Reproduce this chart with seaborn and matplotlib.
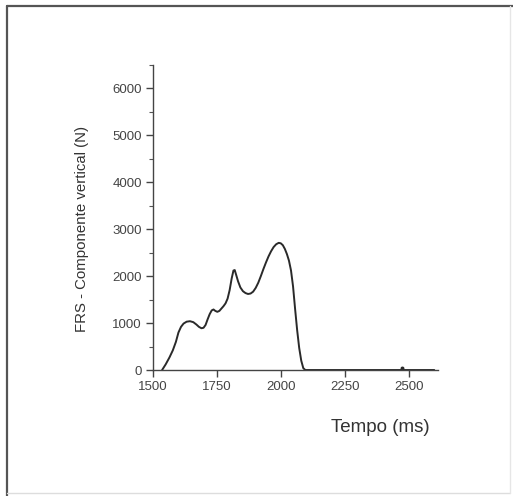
import matplotlib
matplotlib.use("Agg")
import matplotlib.pyplot as plt
import seaborn as sns
import pandas as pd
from matplotlib.ticker import MultipleLocator
from matplotlib.lines import Line2D

# Data
tempo_ms = [1536, 1550, 1565, 1578, 1590, 1600, 1610, 1620, 1632, 1645, 1658, 1670,
            1680, 1690, 1698, 1706, 1714, 1722, 1730, 1737, 1744, 1752, 1760, 1768,
            1776, 1784, 1792, 1800, 1808, 1815, 1820, 1826, 1833, 1842, 1852, 1862,
            1872, 1882, 1892, 1902, 1912, 1922, 1932, 1942, 1952, 1962, 1972, 1982,
            1992, 2000, 2008, 2016, 2024, 2032, 2040, 2048, 2056, 2064, 2072, 2080,
            2088, 2096, 2110, 2200, 2300, 2400, 2500, 2600]
forca_n = [0, 120, 270, 420, 600, 800, 920, 990, 1030, 1040, 1020, 970,
           920, 890, 900, 960, 1080, 1190, 1270, 1290, 1260, 1240, 1260, 1310,
           1360, 1420, 1520, 1700, 1950, 2120, 2130, 2020, 1890, 1760, 1680, 1640,
           1620, 1630, 1670, 1750, 1860, 2000, 2150, 2290, 2420, 2530, 2620, 2680,
           2710, 2700, 2660, 2580, 2470, 2330, 2120, 1780, 1300, 850, 470, 200,
           40, 0, 0, 0, 0, 0, 0, 0]
marca_tempo = [2475]
marca_forca = [40]
x_ticks = [1500, 1750, 2000, 2250, 2500]
y_ticks = [0, 1000, 2000, 3000, 4000, 5000, 6000]

sns.set_style("white")
plt.rcParams['font.family'] = ['Liberation Sans', 'DejaVu Sans']

df = pd.DataFrame({"Tempo": tempo_ms, "FRS": forca_n})

fig = plt.figure(figsize=(5.13, 4.96), dpi=100)
ax = fig.add_axes([0.298, 0.254, 0.556, 0.615])

sns.lineplot(data=df, x="Tempo", y="FRS", ax=ax, color="#2a2a2a", linewidth=1.4)
sns.scatterplot(x=marca_tempo, y=marca_forca, ax=ax, color="#2a2a2a", s=8,
                linewidth=0, clip_on=False)

ax.set_xlim(1500, 2615)
ax.set_ylim(0, 6500)
ax.set_xticks(x_ticks)
ax.set_yticks(y_ticks)
ax.yaxis.set_minor_locator(MultipleLocator(500))

for s in ["top", "right"]:
    ax.spines[s].set_visible(False)
for s in ["left", "bottom"]:
    ax.spines[s].set_color("#444444")
    ax.spines[s].set_linewidth(1.0)

ax.tick_params(axis="both", which="major", direction="out", length=5, width=1,
               color="#444444", labelsize=9.5, labelcolor="#444444", pad=3,
               left=True, bottom=True)
ax.tick_params(axis="y", which="minor", direction="out", length=3, width=0.8,
               color="#555555", left=True)

ax.set_xlabel("Tempo (ms)", fontsize=13.5, color="#333333")
ax.set_ylabel("FRS - Componente vertical (N)", fontsize=10.8, color="#333333")
ax.xaxis.set_label_coords(0.797, -0.19)
ax.yaxis.set_label_coords(-0.249, 0.464)
ax.xaxis.label.set_va("center")
ax.yaxis.label.set_va("center")

# outer frame of the picture
fig.add_artist(Line2D([0.013, 0.013], [0.0, 0.988], transform=fig.transFigure,
                      color="#555555", linewidth=1.6))
fig.add_artist(Line2D([0.013, 1.0], [0.988, 0.988], transform=fig.transFigure,
                      color="#555555", linewidth=1.6))
fig.add_artist(Line2D([0.013, 0.995], [0.006, 0.006], transform=fig.transFigure,
                      color="#dddddd", linewidth=1.0))
fig.add_artist(Line2D([0.995, 0.995], [0.006, 0.988], transform=fig.transFigure,
                      color="#e6e6e6", linewidth=1.0))

fig.savefig("out.png", dpi=100)
